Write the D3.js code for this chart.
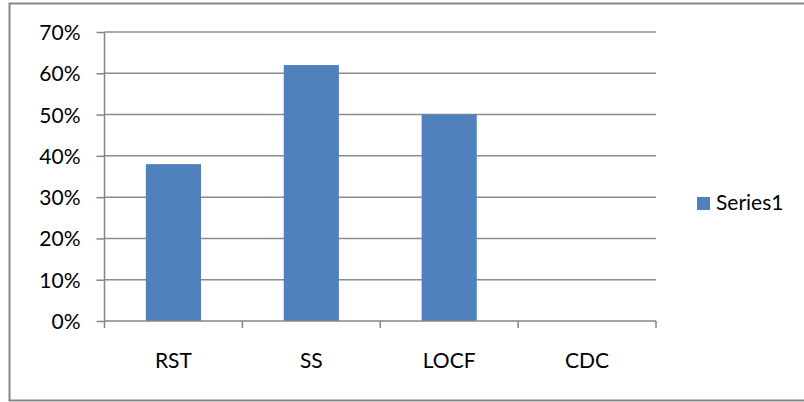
<!DOCTYPE html>
<html>
<head>
<meta charset="utf-8">
<script src="https://cdn.jsdelivr.net/npm/d3@7"></script>
<style>
  html, body { margin: 0; padding: 0; background: #fff; }
  svg { display: block; font-family: Lato, "Open Sans", sans-serif; }
</style>
</head>
<body>
<svg id="chart" width="804" height="402"></svg>
<script>
// Chart data
const categories = ["RST", "SS", "LOCF", "CDC"];
const seriesName = "Series1";
const seriesValues = [0.38, 0.62, 0.50, 0.0];
const yTicks = [0, 0.1, 0.2, 0.3, 0.4, 0.5, 0.6, 0.7];

const svg = d3.select("#chart");
const plot = { left: 104.5, right: 656, top: 32, bottom: 321 };
const barColor = "#4f81bd";
const gridColor = "#8c8c8c";
const axisColor = "#868686";
const fontSize = "21px";

// Outer chart frame
svg.append("rect")
  .attr("x", 9.5).attr("y", 3.5)
  .attr("width", 800).attr("height", 397)
  .attr("fill", "#fff")
  .attr("stroke", axisColor).attr("stroke-width", 2);

const x = d3.scaleBand()
  .domain(categories)
  .range([plot.left, plot.right])
  .paddingInner(0.6)
  .paddingOuter(0.3);

const xOuter = d3.scaleBand()
  .domain(categories)
  .range([plot.left, plot.right]);

const y = d3.scaleLinear()
  .domain([0, 0.7])
  .range([plot.bottom, plot.top]);

// Horizontal gridlines
svg.append("g")
  .selectAll("line")
  .data(yTicks.filter(d => d > 0))
  .join("line")
  .attr("x1", plot.left).attr("x2", plot.right)
  .attr("y1", d => y(d))
  .attr("y2", d => y(d))
  .attr("stroke", gridColor).attr("stroke-width", 1.5);

// Bars
svg.append("g")
  .selectAll("rect")
  .data(categories.map((c, i) => ({ c, v: seriesValues[i] })))
  .join("rect")
  .attr("x", d => x(d.c))
  .attr("width", x.bandwidth())
  .attr("y", d => y(d.v))
  .attr("height", d => y(0) - y(d.v))
  .attr("fill", barColor);

// Y axis
const yAxis = d3.axisLeft(y)
  .tickValues(yTicks)
  .tickFormat(d3.format(".0%"))
  .tickSize(8)
  .tickPadding(16);

const gy = svg.append("g")
  .attr("transform", `translate(${plot.left},0)`)
  .call(yAxis);
gy.attr("font-size", null).attr("font-family", null);
gy.select(".domain").attr("stroke", axisColor).attr("stroke-width", 1.5)
  .attr("d", `M0,${plot.top}V${plot.bottom}`);
gy.selectAll(".tick line").attr("stroke", axisColor).attr("stroke-width", 1.5);
gy.selectAll(".tick text")
  .attr("fill", "#000")
  .attr("dy", "0.36em")
  .style("font-size", fontSize);

// X axis: ticks at category boundaries, labels centred in each band
const gx = svg.append("g")
  .attr("transform", `translate(0,${plot.bottom})`);
gx.append("line")
  .attr("x1", plot.left).attr("x2", plot.right)
  .attr("y1", 0).attr("y2", 0)
  .attr("stroke", axisColor).attr("stroke-width", 1.5);
const boundaries = categories.map(c => xOuter(c)).concat([plot.right]);
gx.selectAll("line.tick")
  .data(boundaries)
  .join("line")
  .attr("class", "tick")
  .attr("x1", d => d).attr("x2", d => d)
  .attr("y1", 0).attr("y2", 7)
  .attr("stroke", axisColor).attr("stroke-width", 1.5);
gx.selectAll("text")
  .data(categories)
  .join("text")
  .attr("x", d => xOuter(d) + xOuter.bandwidth() / 2)
  .attr("y", 47)
  .attr("text-anchor", "middle")
  .attr("fill", "#000")
  .style("font-size", fontSize)
  .text(d => d);

// Legend
const lg = svg.append("g").attr("transform", "translate(697,197)");
lg.append("rect").attr("x", 0).attr("y", 0).attr("width", 13).attr("height", 13).attr("fill", barColor);
lg.append("text")
  .attr("x", 19).attr("y", 12.5)
  .attr("fill", "#000")
  .style("font-size", fontSize)
  .text(seriesName);
</script>
</body>
</html>
